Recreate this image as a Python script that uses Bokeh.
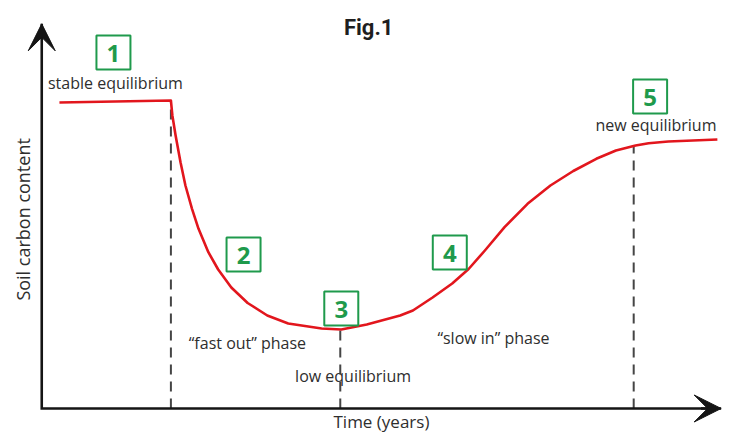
import math
from bokeh.plotting import figure
from bokeh.models import Range1d, Arrow, VeeHead, ColumnDataSource
from bokeh.core.properties import value
from bokeh.embed import file_html
from bokeh.resources import INLINE

# ---- data (conceptual units: time in years, soil carbon in relative units) ----
time_years = [2.63, 19.20, 19.42, 19.90, 20.63, 21.36, 22.34, 23.31, 24.77, 26.23,
              28.18, 30.61, 33.53, 36.64, 41.61, 44.53, 48.32, 53.28, 55.18, 58.10,
              61.02, 63.46, 65.88, 68.80, 72.22, 75.62, 79.02, 82.44, 85.36, 88.28,
              90.22, 93.14, 100.44]
soil_carbon = [99.67, 100.33, 95.44, 88.93, 80.23, 72.64, 65.05, 58.53, 50.91, 45.28,
               39.41, 34.36, 30.29, 27.69, 26.06, 25.73, 27.36, 30.29, 31.92, 36.16,
               40.72, 45.44, 51.47, 59.06, 66.68, 72.64, 77.36, 81.34, 84.04, 85.67,
               86.42, 86.97, 87.62]

# phase boundaries (dashed verticals)
phase_time = [19.20, 44.38, 88.0]
phase_carbon = [100.33, 25.73, 85.5]

# numbered stage markers
stage_labels = ["1", "2", "3", "4", "5"]
stage_time = [10.66, 30.0, 44.53, 60.66, 90.44]
stage_carbon = [115.96, 50.2, 32.6, 50.8, 101.6]

# annotations
note_texts = ["stable equilibrium", "\u201cfast out\u201d phase", "low equilibrium",
              "\u201cslow in\u201d phase", "new equilibrium"]
note_time = [10.95, 30.58, 46.28, 67.15, 91.31]
note_carbon = [105.9, 21.2, 10.7, 22.8, 92.2]

x_label = "Time (years)"
y_label = "Soil carbon content"
title_text = "Fig.1"

axis_time_end = 101.0
axis_carbon_end = 125.3

# ---- figure ----
p = figure(width=723, height=432, output_backend="svg", toolbar_location=None,
           x_range=Range1d(-6.131, 101.35), y_range=Range1d(-7.82, 132.9),
           x_axis_location=None, y_axis_location=None, min_border=0)
p.outline_line_color = None
p.grid.visible = False
p.background_fill_color = "white"
p.border_fill_color = "white"

RED = "#e2161d"
GREEN = "#1f9a4c"
TEXT = "#2e2e2e"
AXIS = "#151515"

# dashed phase boundaries
p.segment(x0=phase_time, y0=[0] * len(phase_time), x1=phase_time, y1=phase_carbon,
          line_color="#454545", line_width=2, line_dash="10 7")

# curve
p.line(time_years, soil_carbon, line_color=RED, line_width=2.6, line_join="round")

# axes
p.line([0, 0, axis_time_end], [axis_carbon_end, 0, 0], line_color=AXIS,
       line_width=2.6, line_join="miter")
p.add_layout(Arrow(x_start=0, y_start=axis_carbon_end - 5, x_end=0, y_end=axis_carbon_end,
                   line_color=AXIS, line_width=2.6,
                   end=VeeHead(size=27, fill_color=AXIS, line_color=AXIS, line_width=1)))
p.add_layout(Arrow(x_start=axis_time_end - 3, y_start=0, x_end=axis_time_end, y_end=0,
                   line_color=AXIS, line_width=2.6,
                   end=VeeHead(size=27, fill_color=AXIS, line_color=AXIS, line_width=1)))

# stage boxes
stage_src = ColumnDataSource(dict(x=stage_time, y=stage_carbon, t=stage_labels))
p.rect(x="x", y="y", width=34, height=34, width_units="screen", height_units="screen",
       source=stage_src, fill_color="white", line_color=GREEN, line_width=2)
p.text(x="x", y="y", text="t", source=stage_src, text_align="center",
       text_baseline="middle", text_font=value("Open Sans"), text_font_style="bold",
       text_font_size=value("24px"), text_color=GREEN, y_offset=1)

# notes
note_src = ColumnDataSource(dict(x=note_time, y=note_carbon, t=note_texts))
p.text(x="x", y="y", text="t", source=note_src, text_align="center",
       text_baseline="middle", text_font=value("Open Sans"),
       text_font_size=value("16px"), text_color=TEXT)

# axis labels
p.text(x=[50.5], y=[-4.3], text=[x_label], text_align="center", text_baseline="middle",
       text_font=value("Open Sans"), text_font_size=value("17px"), text_color=TEXT)
p.text(x=[-2.77], y=[61.6], text=[y_label], angle=math.pi / 2, text_align="center",
       text_baseline="middle", text_font=value("Open Sans"),
       text_font_size=value("18px"), text_color=TEXT)

# title
p.text(x=[48.6], y=[124.1], text=[title_text], text_align="center", text_baseline="middle",
       text_font=value("Roboto"), text_font_style="bold", text_font_size=value("22px"),
       text_color="#1e1e1e")

open("out.html", "w").write(file_html(p, INLINE))
